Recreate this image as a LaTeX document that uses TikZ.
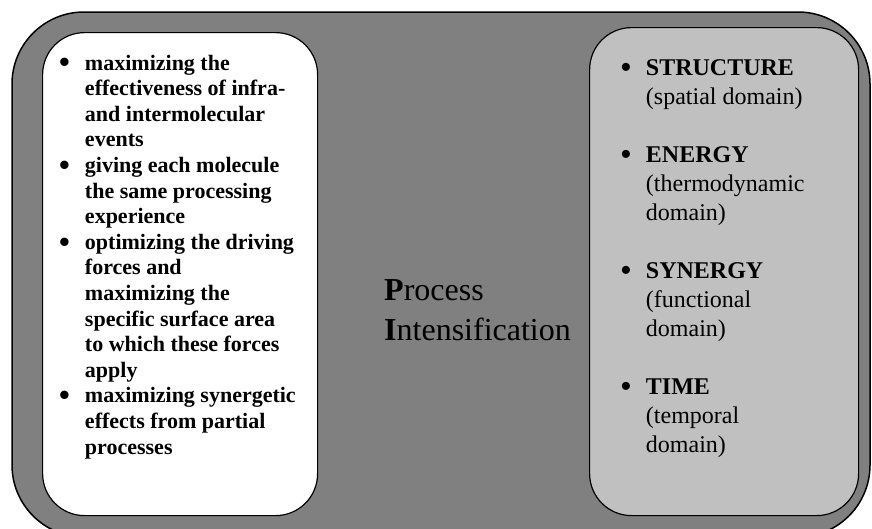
\documentclass[tikz,border=0pt]{standalone}
\usepackage{fontspec}
\usepackage{graphicx}
\setmainfont{Liberation Serif}
\definecolor{outergray}{HTML}{808080}
\definecolor{panegray}{HTML}{C0C0C0}
\newcommand{\pibullet}{\raisebox{-0.13em}{\scalebox{1.4}{\textbullet}}}
\tikzset{
  pane/.style={draw=black, line width=1.2pt, rounded corners=42pt, anchor=north west, inner sep=0pt},
  leftlist/.style={anchor=base west, inner sep=0pt, font=\fontsize{22}{25.6}\selectfont\bfseries},
  rightlist/.style={anchor=base west, inner sep=0pt, font=\fontsize{24}{29}\selectfont},
  title/.style={anchor=base west, inner sep=0pt, font=\fontsize{32}{40}\selectfont}
}
\begin{document}
\begin{tikzpicture}[x=1pt,y=-1pt]
\useasboundingbox (0,0) rectangle (872,528);
\clip (0,0) rectangle (872,528);
% outer frame
\draw[fill=outergray, line width=1.5pt, rounded corners=72pt] (12,12) rectangle (870,537);
% the two panes
\node[pane, fill=white, minimum width=275pt, minimum height=483pt] (leftpane) at (42,32) {};
\node[pane, fill=panegray, minimum width=269pt, minimum height=488pt] (rightpane) at (589,27) {};
% principles
\node[leftlist] (principles) at (59,70) {\begin{tabular}[t]{@{}l@{\hspace{15pt}}l@{}}
\pibullet & maximizing the\\
 & effectiveness of infra-\\
 & and intermolecular\\
 & events\\
\pibullet & giving each molecule\\
 & the same processing\\
 & experience\\
\pibullet & optimizing the driving\\
 & forces and\\
 & maximizing the\\
 & specific surface area\\
 & to which these forces\\
 & apply\\
\pibullet & maximizing synergetic\\
 & effects from partial\\
 & processes
\end{tabular}};
% title
\node[title] (pi) at (384,300) {\begin{tabular}[t]{@{}l@{}}
\textbf{P}rocess\\
\textbf{I}ntensification
\end{tabular}};
% domains
\node[rightlist] (domains) at (620,75) {\begin{tabular}[t]{@{}l@{\hspace{14pt}}l@{}}
\pibullet & \textbf{STRUCTURE}\\
 & (spatial domain)\\
 & \\
\pibullet & \textbf{ENERGY}\\
 & (thermodynamic\\
 & domain)\\
 & \\
\pibullet & \textbf{SYNERGY}\\
 & (functional\\
 & domain)\\
 & \\
\pibullet & \textbf{TIME}\\
 & (temporal\\
 & domain)
\end{tabular}};
\end{tikzpicture}
\end{document}
